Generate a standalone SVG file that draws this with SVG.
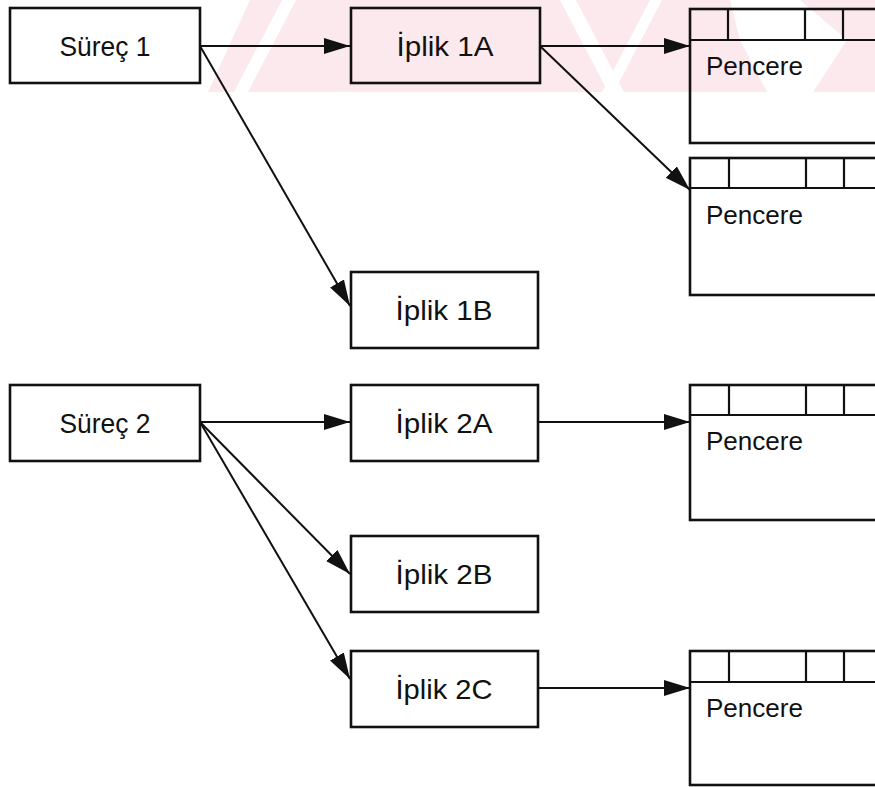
<svg xmlns="http://www.w3.org/2000/svg" width="875" height="787" viewBox="0 0 875 787">
  <style>
    .box { fill: none; stroke: #111; stroke-width: 2.6; }
    .win { fill: none; stroke: #111; stroke-width: 2.6; }
    .cell { stroke: #111; stroke-width: 2.2; }
    .lbl { font-family: "Liberation Sans", Arial, sans-serif; font-size: 28px; fill: #111; text-anchor: middle; }
    .wlbl { font-family: "Liberation Sans", Arial, sans-serif; font-size: 25px; fill: #111; }
    .edge { fill: none; stroke: #111; stroke-width: 2; marker-end: url(#head); }
    .wm { fill: #fce9ed; }
    .wmw { fill: #ffffff; }
  </style>
  <defs>
    <marker id="head" markerUnits="userSpaceOnUse" markerWidth="28" markerHeight="18" refX="26" refY="8" orient="auto">
      <path d="M0,0 L26,8 L0,16 z" fill="#111"/>
    </marker>
  </defs>

  <rect width="875" height="787" fill="#ffffff"/>

  <!-- faint pink band across the top with a few white diagonal gaps -->
  <g id="backdrop">
    <polygon class="wm" points="250,0 875,0 875,92 208,92"/>
    <polygon class="wmw" points="282,0 296,0 248,92 234,92"/>
    <polygon class="wmw" points="560,0 576,0 624,92 608,92"/>
    <polygon class="wmw" points="650,0 662,0 614,92 602,92"/>
    <polygon class="wmw" points="730,0 800,0 847,40 813,92 767,92 740,40"/>
  </g>

  <g id="connectors">
    <line class="edge" x1="200" y1="46" x2="350" y2="46"/>
    <line class="edge" x1="200" y1="46" x2="350" y2="306"/>
    <line class="edge" x1="540" y1="46" x2="690" y2="46"/>
    <line class="edge" x1="540" y1="46" x2="690" y2="190"/>
    <line class="edge" x1="200" y1="422" x2="350" y2="422"/>
    <line class="edge" x1="200" y1="422" x2="350" y2="574"/>
    <line class="edge" x1="200" y1="422" x2="350" y2="679"/>
    <line class="edge" x1="538" y1="422" x2="690" y2="422"/>
    <line class="edge" x1="538" y1="688" x2="690" y2="688"/>
  </g>

  <g id="surec1">
    <rect class="box" x="10" y="8" width="190" height="75"/>
    <text class="lbl" x="105" y="56" textLength="91" lengthAdjust="spacingAndGlyphs">Süreç 1</text>
  </g>
  <g id="iplik1a">
    <rect class="box" x="351" y="8" width="189" height="75"/>
    <text class="lbl" x="445" y="56" textLength="97" lengthAdjust="spacingAndGlyphs">İplik 1A</text>
  </g>
  <g id="iplik1b">
    <rect class="box" x="351" y="272" width="187" height="76"/>
    <text class="lbl" x="444" y="320" textLength="97" lengthAdjust="spacingAndGlyphs">İplik 1B</text>
  </g>
  <g id="surec2">
    <rect class="box" x="10" y="385" width="190" height="76"/>
    <text class="lbl" x="105" y="433" textLength="91" lengthAdjust="spacingAndGlyphs">Süreç 2</text>
  </g>
  <g id="iplik2a">
    <rect class="box" x="351" y="385" width="187" height="76"/>
    <text class="lbl" x="444" y="433" textLength="97" lengthAdjust="spacingAndGlyphs">İplik 2A</text>
  </g>
  <g id="iplik2b">
    <rect class="box" x="351" y="536" width="187" height="76"/>
    <text class="lbl" x="444" y="584" textLength="97" lengthAdjust="spacingAndGlyphs">İplik 2B</text>
  </g>
  <g id="iplik2c">
    <rect class="box" x="351" y="651" width="187" height="76"/>
    <text class="lbl" x="444" y="699" textLength="97" lengthAdjust="spacingAndGlyphs">İplik 2C</text>
  </g>

  <g id="pencere1">
    <rect class="win" x="690" y="9" width="200" height="134"/>
    <line class="cell" x1="690" y1="40" x2="875" y2="40"/>
    <line class="cell" x1="728" y1="9" x2="728" y2="40"/>
    <line class="cell" x1="805" y1="9" x2="805" y2="40"/>
    <line class="cell" x1="843" y1="9" x2="843" y2="40"/>
    <text class="wlbl" x="706" y="75" textLength="97" lengthAdjust="spacingAndGlyphs">Pencere</text>
  </g>
  <g id="pencere2">
    <rect class="win" x="690" y="158" width="200" height="137"/>
    <line class="cell" x1="690" y1="188" x2="875" y2="188"/>
    <line class="cell" x1="729" y1="158" x2="729" y2="188"/>
    <line class="cell" x1="806" y1="158" x2="806" y2="188"/>
    <line class="cell" x1="844" y1="158" x2="844" y2="188"/>
    <text class="wlbl" x="706" y="224" textLength="97" lengthAdjust="spacingAndGlyphs">Pencere</text>
  </g>
  <g id="pencere3">
    <rect class="win" x="690" y="385" width="200" height="135"/>
    <line class="cell" x1="690" y1="415" x2="875" y2="415"/>
    <line class="cell" x1="729" y1="385" x2="729" y2="415"/>
    <line class="cell" x1="806" y1="385" x2="806" y2="415"/>
    <line class="cell" x1="844" y1="385" x2="844" y2="415"/>
    <text class="wlbl" x="706" y="450" textLength="97" lengthAdjust="spacingAndGlyphs">Pencere</text>
  </g>
  <g id="pencere4">
    <rect class="win" x="690" y="651" width="200" height="134"/>
    <line class="cell" x1="690" y1="682" x2="875" y2="682"/>
    <line class="cell" x1="729" y1="651" x2="729" y2="682"/>
    <line class="cell" x1="806" y1="651" x2="806" y2="682"/>
    <line class="cell" x1="844" y1="651" x2="844" y2="682"/>
    <text class="wlbl" x="706" y="717" textLength="97" lengthAdjust="spacingAndGlyphs">Pencere</text>
  </g>
</svg>
